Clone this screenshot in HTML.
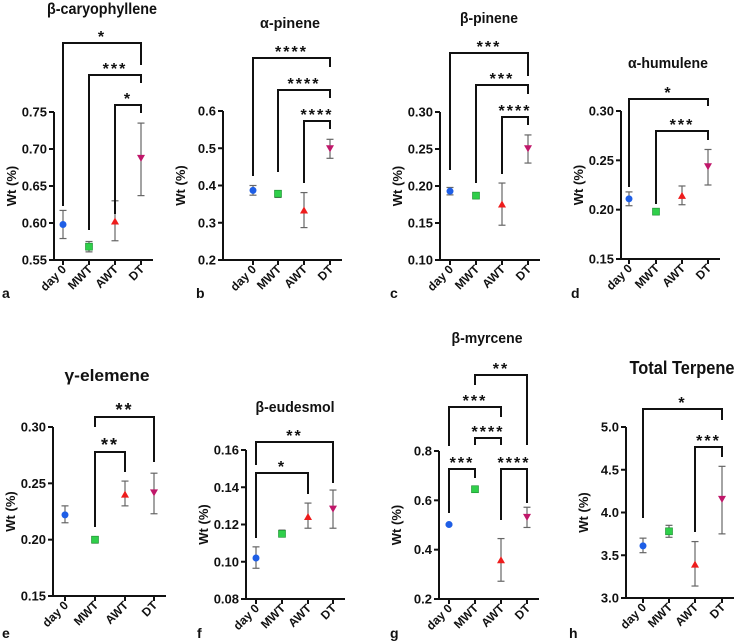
<!DOCTYPE html>
<html><head><meta charset="utf-8"><style>
html,body{margin:0;padding:0;background:#fff;}
svg{display:block;font-family:"Liberation Sans",sans-serif;}
</style></head><body>
<svg id="fig" width="741" height="642" viewBox="0 0 741 642" xmlns="http://www.w3.org/2000/svg"></svg>
<script>
const categories = ["day 0","MWT","AWT","DT"];
// a
const caryoMean=[0.598,0.568,0.602,0.688], caryoLo=[0.579,0.561,0.576,0.637], caryoHi=[0.617,0.575,0.630,0.735];
const caryoTicks=[0.55,0.60,0.65,0.70,0.75];
// b
const apinMean=[0.387,0.378,0.333,0.500], apinLo=[0.374,0.368,0.287,0.473], apinHi=[0.400,0.386,0.381,0.524];
const apinTicks=[0.2,0.3,0.4,0.5,0.6];
// c
const bpinMean=[0.193,0.187,0.175,0.251], bpinLo=[0.188,0.184,0.147,0.231], bpinHi=[0.198,0.190,0.204,0.269];
const bpinTicks=[0.10,0.15,0.20,0.25,0.30];
// d
const humMean=[0.211,0.198,0.214,0.244], humLo=[0.204,0.196,0.205,0.225], humHi=[0.218,0.199,0.224,0.261];
const humTicks=[0.15,0.20,0.25,0.30];
// e
const elemMean=[0.222,0.200,0.240,0.242], elemLo=[0.215,0.197,0.230,0.223], elemHi=[0.230,0.202,0.252,0.259];
const elemTicks=[0.15,0.20,0.25,0.30];
// f
const eudMean=[0.102,0.115,0.124,0.1285], eudLo=[0.0965,0.1135,0.118,0.118], eudHi=[0.108,0.117,0.1315,0.1385];
const eudTicks=[0.08,0.10,0.12,0.14,0.16];
// g
const myrMean=[0.502,0.645,0.357,0.533], myrLo=[0.500,0.638,0.272,0.490], myrHi=[0.504,0.652,0.445,0.572];
const myrTicks=[0.2,0.4,0.6,0.8];
// h
const totMean=[3.61,3.78,3.39,4.16], totLo=[3.53,3.71,3.14,3.75], totHi=[3.70,3.85,3.66,4.54];
const totTicks=[3.0,3.5,4.0,4.5,5.0];

const NS="http://www.w3.org/2000/svg";
const svg=document.getElementById('fig');
function el(tag,attrs,parent,text){const e=document.createElementNS(NS,tag);for(const k in attrs)e.setAttribute(k,attrs[k]);if(text!==undefined)e.textContent=text;(parent||svg).appendChild(e);return e;}

const panels=[
 {id:'a',title:'β-caryophyllene',tx:102,ty:14,tfs:16,tw:110,ax:54,y0:260,y1:112,cx:[63,89,115,141],mean:caryoMean,lo:caryoLo,hi:caryoHi,ticks:caryoTicks,dec:2,lx:2,ly:298,
  br:[[0,3,43,206,65,'*'],[1,3,75,230,83,'***'],[2,3,105,214,113,'*']]},
 {id:'b',title:'α-pinene',tx:290,ty:28,tfs:15,tw:60,ax:223,y0:260,y1:111,cx:[253,278,304,330],mean:apinMean,lo:apinLo,hi:apinHi,ticks:apinTicks,dec:1,lx:196,ly:298,
  br:[[0,3,58,176,67,'****'],[1,3,90,172,98,'****'],[2,3,121,183,129,'****']]},
 {id:'c',title:'β-pinene',tx:489,ty:23,tfs:15,tw:58,ax:440,y0:260,y1:112,cx:[450,476,502,528],mean:bpinMean,lo:bpinLo,hi:bpinHi,ticks:bpinTicks,dec:2,lx:390,ly:298,
  br:[[0,3,53,170,76,'***'],[1,3,85,183,94,'***'],[2,3,117,174,125,'****']]},
 {id:'d',title:'α-humulene',tx:668,ty:68,tfs:15,tw:80,ax:621,y0:259,y1:111,cx:[629,656,682,708],mean:humMean,lo:humLo,hi:humHi,ticks:humTicks,dec:2,lx:571,ly:298,
  br:[[0,3,99,187,106,'*'],[1,3,131,204,140,'***']]},
 {id:'e',title:'γ-elemene',tx:107,ty:381,tfs:17,tw:85,ax:53,y0:596,y1:427,cx:[65,95,125,154],mean:elemMean,lo:elemLo,hi:elemHi,ticks:elemTicks,dec:2,lx:2,ly:638,
  br:[[1,3,417,427,462,'**'],[1,2,452,527,472,'**']]},
 {id:'f',title:'β-eudesmol',tx:295,ty:412,tfs:15,tw:79,ax:246,y0:599,y1:450,cx:[256,282,308,333],mean:eudMean,lo:eudLo,hi:eudHi,ticks:eudTicks,dec:2,lx:197,ly:638,
  br:[[0,3,442,465,483,'**'],[0,2,473,538,494,'*']]},
 {id:'g',title:'β-myrcene',tx:487,ty:343,tfs:15,tw:71,ax:439,y0:599,y1:451,cx:[449,475,501,527],mean:myrMean,lo:myrLo,hi:myrHi,ticks:myrTicks,dec:1,lx:390,ly:638,
  br:[[1,3,375,385,445,'**'],[0,2,407,446,417,'***'],[1,2,438,445,445,'****'],[0,1,469,513,478,'***'],[2,3,469,520,503,'****']]},
 {id:'h',title:'Total Terpene',tx:682,ty:374,tfs:18,tw:105,ax:626,y0:598,y1:427,cx:[643,669,695,722],mean:totMean,lo:totLo,hi:totHi,ticks:totTicks,dec:1,lx:569,ly:638,
  br:[[0,3,409,518,420,'*'],[2,3,447,532,457,'***']]}
];
const colors=['#1e5ee6','#2fcf4a','#ee1c1c','#c0176a'];

panels.forEach(p=>{
  const g=el('g',{});
  
  
  const tmin=p.ticks[0], tmax=p.ticks[p.ticks.length-1];
  const Y=v=>p.y0+(v-tmin)/(tmax-tmin)*(p.y1-p.y0);
  const xEnd=p.cx[3]+12;
  const t=el('text',{x:p.tx,y:p.ty,'text-anchor':'middle','font-size':p.tfs,'font-weight':'bold',fill:'#111',textLength:p.tw,lengthAdjust:'spacingAndGlyphs'},g,p.title);
  
  
  const L=el('text',{x:p.lx,y:p.ly,'font-size':14,'font-weight':'bold',fill:'#111'},g,p.id);
  
  
  const ya=el('line',{x1:p.ax,y1:p.y1,x2:p.ax,y2:p.y0+1,stroke:'#111','stroke-width':2},g);
  
  
  const xa=el('line',{x1:p.ax-1,y1:p.y0,x2:xEnd,y2:p.y0,stroke:'#111','stroke-width':2},g);
  
  
  p.ticks.forEach(v=>{
    const y=Y(v);
    el('line',{x1:p.ax-5,y1:y,x2:p.ax,y2:y,stroke:'#111','stroke-width':2},g);
    const tl=el('text',{x:p.ax-7,y:y+4.5,'text-anchor':'end','font-size':13,'font-weight':'bold',fill:'#111'},g,v.toFixed(p.dec));
    
    
  });
  const yt=el('text',{transform:`translate(${p.ax-38},${(p.y0+p.y1)/2}) rotate(-90)`,'text-anchor':'middle','font-size':13,'font-weight':'bold',fill:'#111'},g,'Wt (%)');
  
  
  categories.forEach((c,i)=>{
    const x=p.cx[i];
    el('line',{x1:x,y1:p.y0,x2:x,y2:p.y0+5,stroke:'#111','stroke-width':2},g);
    const cl=el('text',{transform:`translate(${x+4},${p.y0+10}) rotate(-45)`,'text-anchor':'end','font-size':12,'font-weight':'bold',fill:'#111'},g,c);
    
    
  });
  categories.forEach((c,i)=>{
    const x=p.cx[i], yl=Y(p.lo[i]), yh=Y(p.hi[i]), ym=Y(p.mean[i]);
    const eb=el('g',{stroke:'#666','stroke-width':1.2},g);
    
    
    el('line',{x1:x,y1:yl,x2:x,y2:yh},eb);
    el('line',{x1:x-3.5,y1:yl,x2:x+3.5,y2:yl},eb);
    el('line',{x1:x-3.5,y1:yh,x2:x+3.5,y2:yh},eb);
    let m;
    if(i===0) m=el('circle',{cx:x,cy:ym,r:3.5,fill:colors[0]},g);
    else if(i===1) m=el('rect',{x:x-3.5,y:ym-3.5,width:7,height:7,fill:colors[1],stroke:'#1a8a2e','stroke-width':0.6},g);
    else if(i===2) m=el('polygon',{points:`${x},${ym-4} ${x+4},${ym+3} ${x-4},${ym+3}`,fill:colors[2]},g);
    else m=el('polygon',{points:`${x},${ym+4} ${x+4},${ym-3} ${x-4},${ym-3}`,fill:colors[3]},g);
    
    
  });
  p.br.forEach(b=>{
    const x1=p.cx[b[0]], x2=p.cx[b[1]];
    const bg=el('g',{},g);
    
    
    el('polyline',{points:`${x1},${b[3]} ${x1},${b[2]} ${x2},${b[2]} ${x2},${b[4]}`,fill:'none',stroke:'#111','stroke-width':2},bg);
    el('text',{x:(x1+x2)/2,y:b[2]-1,'text-anchor':'middle','font-size':p.id==='e'?18:16,'font-weight':'bold','letter-spacing':'2',fill:'#111'},bg,b[5]);
  });
});
</script>
</body></html>
